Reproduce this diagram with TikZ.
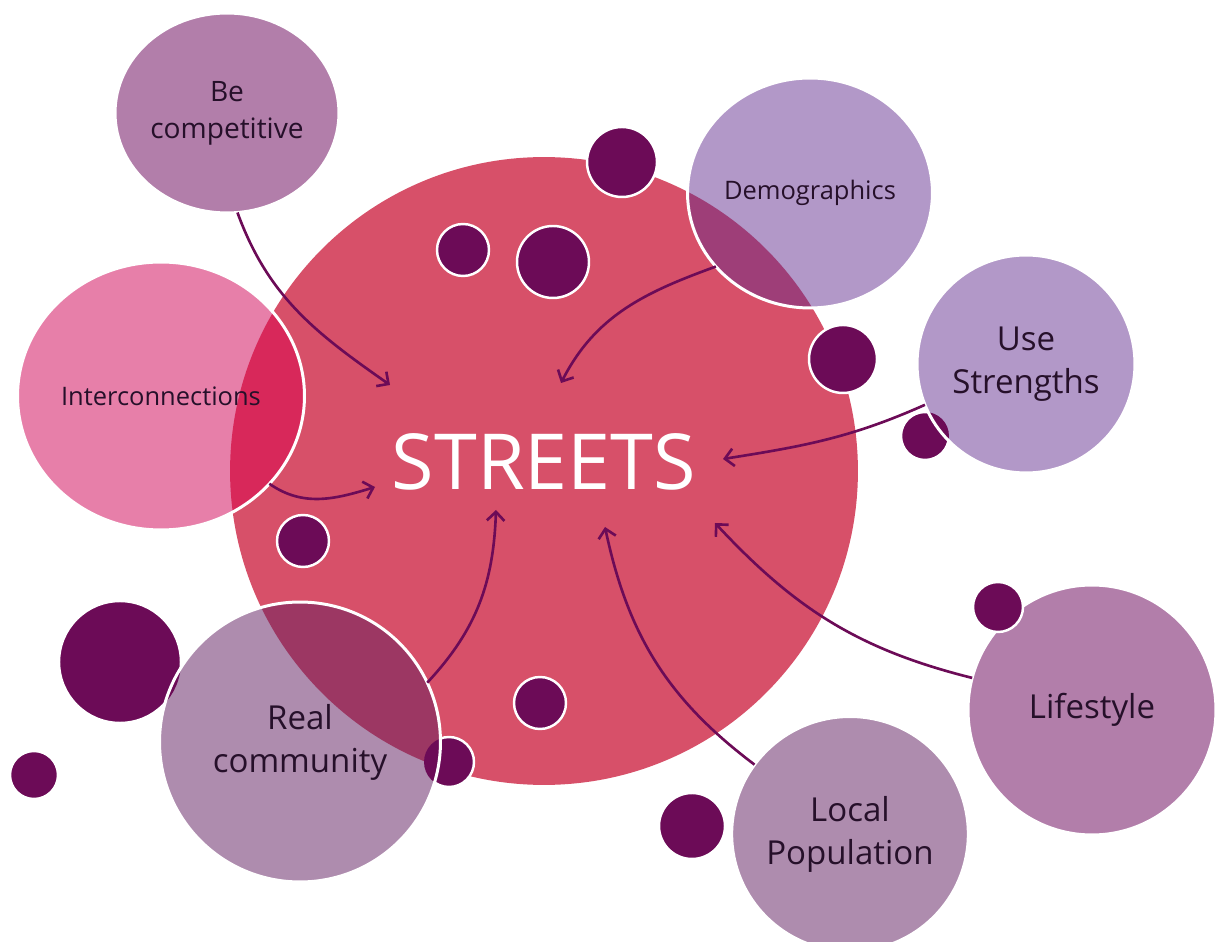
\documentclass[tikz,border=0pt]{standalone}
\usepackage{fontspec}
\setmainfont{Open Sans}
\usepackage{xcolor}
\usepackage{tikz}
\usetikzlibrary{positioning,arrows.meta,shapes.geometric}

\definecolor{streetred}{HTML}{D75069}
\definecolor{pinkc}{HTML}{E77FA9}
\definecolor{pinkover}{HTML}{D8285A}
\definecolor{lavc}{HTML}{B298C8}
\definecolor{lavover}{HTML}{9E3E78}
\definecolor{mauvec}{HTML}{B27EAA}
\definecolor{greyc}{HTML}{AE8CAE}
\definecolor{greyover}{HTML}{9C3763}
\definecolor{plumc}{HTML}{6C0B57}
\definecolor{inkc}{HTML}{26102A}

\begin{document}
\begin{tikzpicture}[
    x=0.02cm, y=0.02cm,
    bubble/.style={ellipse, draw=white, line width=1.7pt, inner sep=0pt, outer sep=0pt, align=center, text=inkc},
    dot/.style={circle, fill=plumc, draw=white, line width=1.4pt, inner sep=0pt, outer sep=0pt},
    smalltxt/.style={font=\fontsize{14.5}{19}\selectfont},
    midtxt/.style={font=\fontsize{16}{21}\selectfont},
    bigtxt/.style={font=\fontsize{18.8}{24.4}\selectfont},
    arrow/.style={-{Straight Barb[length=5pt,width=10pt]}, line width=1.5pt, draw=plumc}
]
\useasboundingbox (0,0) rectangle (1215,941);

% Main circle
\node[circle, fill=streetred, inner sep=0pt, minimum size=12.56cm] (main) at (544,470) {};

% Small dots
\node[dot, minimum size=1.40cm] (d1) at (622,779) {};
\node[dot, minimum size=1.04cm] (d2) at (463,691) {};
\node[dot, minimum size=1.44cm] (d3) at (553,679) {};
\node[dot, minimum size=1.36cm] (d4) at (843,582) {};
\node[dot, minimum size=0.96cm] (d5) at (925,505) {};
\node[dot, minimum size=1.04cm] (d6) at (303,400) {};
\node[dot, minimum size=1.04cm] (d7) at (540,238) {};
\node[dot, minimum size=2.44cm] (d8) at (120,279) {};
\node[dot, minimum size=0.96cm] (d9) at (34,166) {};
\node[dot, minimum size=1.00cm] (d10) at (449,179) {};
\node[dot, minimum size=1.32cm] (d12) at (692,115) {};

% Satellites
\node[bubble, midtxt, fill=mauvec, minimum width=4.48cm, minimum height=4.0cm] (compet) at (227,828) {Be\\competitive};
\node[bubble, smalltxt, fill=lavc, minimum width=4.9cm, minimum height=4.6cm,
      path picture={\fill[lavover] (main) circle[radius=6.28cm];}] (demog) at (810,748) {Demographics};
\node[bubble, smalltxt, fill=pinkc, minimum width=5.74cm, minimum height=5.36cm,
      path picture={\fill[pinkover] (main) circle[radius=6.28cm];}] (intercon) at (161,545) {Interconnections};
\node[bubble, bigtxt, fill=lavc, minimum width=4.36cm, minimum height=4.36cm,
      path picture={\fill[plumc] (d5) circle[radius=0.48cm];}] (usestr) at (1026,577) {Use\\Strengths};
\node[bubble, bigtxt, fill=mauvec, minimum width=4.96cm, minimum height=5.0cm] (lifest) at (1092,231) {Lifestyle};
\node[bubble, bigtxt, fill=greyc, minimum width=4.7cm, minimum height=4.7cm] (locpop) at (850,107) {Local\\Population};
\node[bubble, bigtxt, fill=greyc, minimum width=5.62cm, minimum height=5.6cm,
      path picture={\fill[greyover] (main) circle[radius=6.28cm];
                    \fill[plumc] (d8) circle[radius=1.22cm];
                    \fill[plumc] (d10) circle[radius=0.5cm];}] (realc) at (300,199) {Real\\community};

\node[dot, minimum size=1.00cm] (d11) at (998,334) {};

% Title
\node[text=white, font=\fontsize{44}{50}\selectfont] (streets) at (544,479) {STREETS};

% Arrow ends
\coordinate (tipA) at (390,556);
\coordinate (tipB) at (561,558);
\coordinate (tipC) at (375,454);
\coordinate (tipD) at (723,482);
\coordinate (tipE) at (715,418);
\coordinate (tipF) at (605,414);
\coordinate (tipG) at (496,431);

% Arrows
\draw[arrow] (compet.-84) to[out=-70, in=145] (tipA);
\draw[arrow] (demog.218) to[out=200, in=63] (tipB);
\draw[arrow] (intercon.-39) to[out=-35, in=197] (tipC);
\draw[arrow] (usestr.202) to[out=204, in=9] (tipD);
\draw[arrow] (lifest.165) to[out=166, in=-47] (tipE);
\draw[arrow] (locpop.144) to[out=143, in=-78] (tipF);
\draw[arrow] (realc.25) to[out=47, in=-92] (tipG);

\end{tikzpicture}
\end{document}
